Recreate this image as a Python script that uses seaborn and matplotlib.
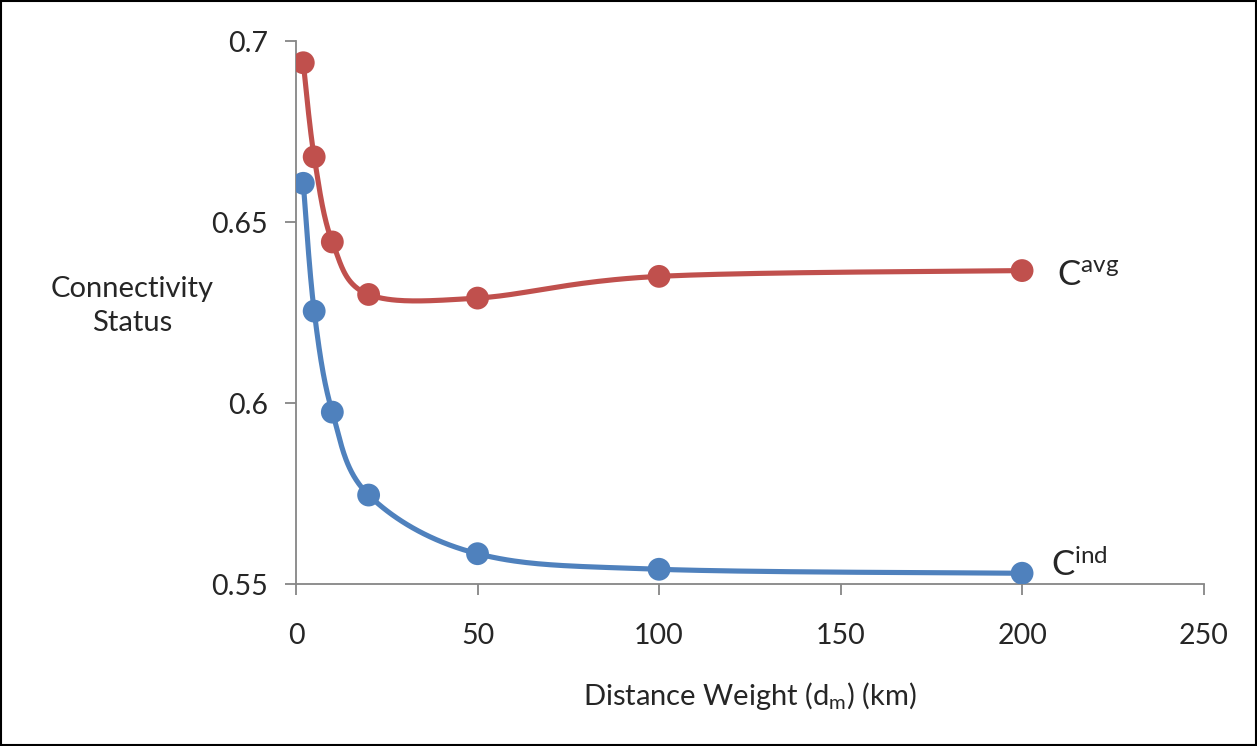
import numpy as np
import pandas as pd
import matplotlib
matplotlib.use("Agg")
import matplotlib.pyplot as plt
import seaborn as sns

# data
distance_km = [2, 5, 10, 20, 50, 100, 200]
c_avg = [0.694, 0.668, 0.6445, 0.630, 0.629, 0.635, 0.6366]
c_ind = [0.6607, 0.6254, 0.5975, 0.5746, 0.5584, 0.5541, 0.553]

x_ticks = [0, 50, 100, 150, 200, 250]
y_ticks = [0.55, 0.6, 0.65, 0.7]

red = "#C0504D"
blue = "#4F81BD"
grey = "#868686"

sns.set_style("white")
plt.rcParams["font.family"] = ["Lato", "DejaVu Sans"]
plt.rcParams["mathtext.fontset"] = "custom"
plt.rcParams["mathtext.rm"] = "Lato"
plt.rcParams["mathtext.it"] = "Lato"


# excel style smoothed line (bezier through the points, tension 1/6)
def smooth(xs, ys, sx, sy, n=40):
    px = np.asarray(xs, float) / sx
    py = np.asarray(ys, float) / sy
    pts = np.column_stack([px, py])
    out = []
    for i in range(len(pts) - 1):
        p0 = pts[i - 1] if i > 0 else pts[i]
        p1 = pts[i]
        p2 = pts[i + 1]
        p3 = pts[i + 2] if i + 2 < len(pts) else pts[i + 1]
        c1 = p1 + (p2 - p0) / 6
        c2 = p2 - (p3 - p1) / 6
        t = np.linspace(0, 1, n)[:, None]
        seg = ((1 - t) ** 3) * p1 + 3 * ((1 - t) ** 2) * t * c1 + 3 * (1 - t) * t ** 2 * c2 + t ** 3 * p2
        out.append(seg if i == 0 else seg[1:])
    out = np.vstack(out)
    return out[:, 0] * sx, out[:, 1] * sy


fig = plt.figure(figsize=(12.57, 7.46), dpi=100)
ax = fig.add_axes([0.2355, 0.217, 0.722, 0.728])

for vals, col in [(c_avg, red), (c_ind, blue)]:
    sxv, syv = smooth(distance_km, vals, 250, 0.15)
    curve = pd.DataFrame({"x": sxv, "y": syv})
    sns.lineplot(data=curve, x="x", y="y", sort=False, color=col, linewidth=3.7, ax=ax)
    pts = pd.DataFrame({"x": distance_km, "y": vals})
    sns.scatterplot(data=pts, x="x", y="y", color=col, s=270, edgecolor="none", ax=ax, zorder=3)

ax.set_xlim(0, 250)
ax.set_ylim(0.55, 0.7)
ax.set_xticks(x_ticks)
ax.set_yticks(y_ticks)
ax.set_xticklabels([str(v) for v in x_ticks])
ax.set_yticklabels(["0.55", "0.6", "0.65", "0.7"])
ax.tick_params(axis="both", direction="out", length=8, width=1.3, color=grey,
               labelsize=20.5, pad=12, bottom=True, left=True)
ax.tick_params(axis="x", pad=20)
for side in ["top", "right"]:
    ax.spines[side].set_visible(False)
for side in ["left", "bottom"]:
    ax.spines[side].set_color(grey)
    ax.spines[side].set_linewidth(1.3)

ax.set_xlabel("Distance Weight (d$_{\\mathrm{m}}$) (km)", fontsize=21, labelpad=22)
ax.set_ylabel("")
fig.text(0.105, 0.59, "Connectivity\nStatus", fontsize=21, ha="center", va="center",
         linespacing=1.35)

ax.text(209.5, 0.6352, "C$^{\\mathrm{avg}}$", fontsize=25, va="center", ha="left")
ax.text(208, 0.5555, "C$^{\\mathrm{ind}}$", fontsize=25, va="center", ha="left")

fig.patches.append(plt.Rectangle((0.001, 0.001), 0.998, 0.998, transform=fig.transFigure,
                                 fill=False, edgecolor="black", linewidth=1.5))

fig.savefig("out.png", dpi=100)
